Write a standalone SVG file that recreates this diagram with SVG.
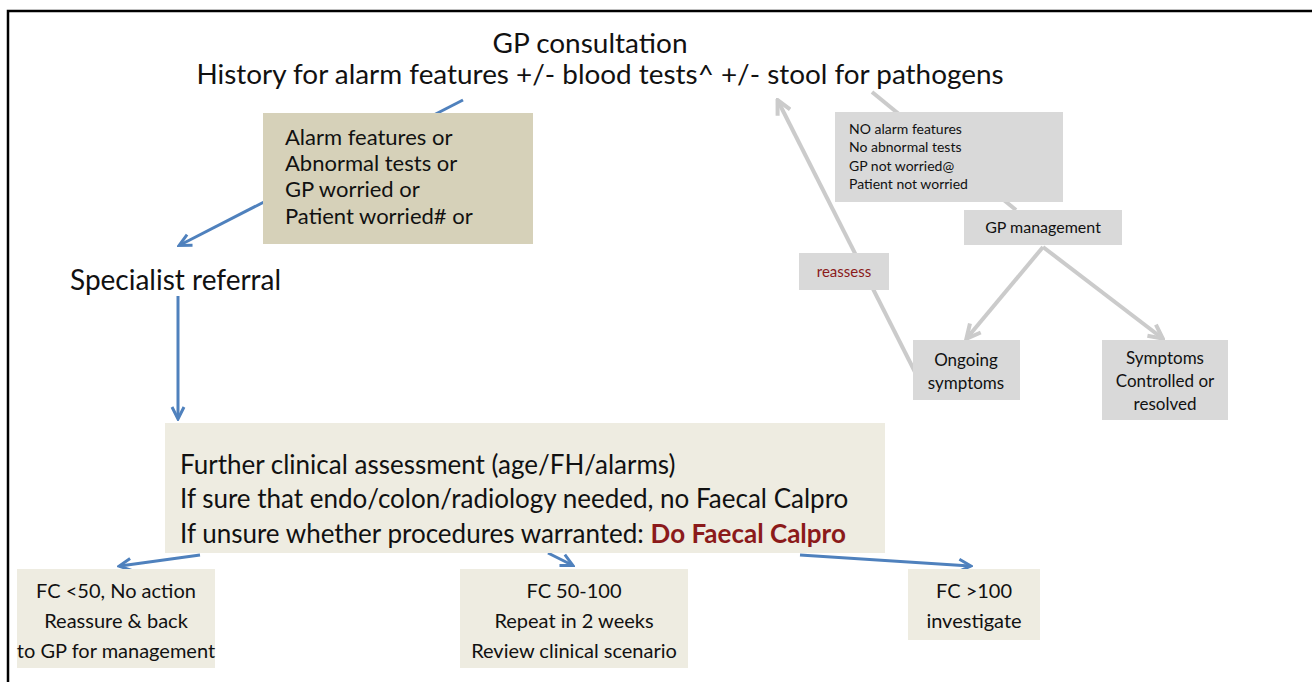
<svg xmlns="http://www.w3.org/2000/svg" width="1312" height="682" viewBox="0 0 1312 682">
<defs>
<marker id="ab" markerUnits="userSpaceOnUse" markerWidth="16" markerHeight="16" viewBox="0 0 16 16" refX="13" refY="8" orient="auto"><path d="M2,2 L14,8 L2,14" fill="none" stroke="#4f81bd" stroke-width="3" stroke-linejoin="miter"/></marker>
<marker id="ag" markerUnits="userSpaceOnUse" markerWidth="18" markerHeight="18" viewBox="0 0 18 18" refX="15" refY="9" orient="auto"><path d="M2,2 L16,9 L2,16" fill="none" stroke="#cbcbcb" stroke-width="4"/></marker>
</defs>
<style>
text{font-family:Lato,"Liberation Sans",sans-serif;fill:#111}
.blue{stroke:#4f81bd;stroke-width:3;fill:none}
.grey{stroke:#cbcbcb;stroke-width:4;fill:none}
.tan{fill:#d6d1b9}
.cream{fill:#eeece1}
.gbox{fill:#d9d9d9}
.big{font-size:26px}
.mid{font-size:20px}
.alarm{font-size:22px}
.sm{font-size:14px}
.gs{font-size:17px}
.c{text-anchor:middle}
</style>
<rect width="1312" height="682" fill="#fff"/>
<path d="M8,682 V11 H1312" fill="none" stroke="#000" stroke-width="2.5"/>

<g id="connectors">
<line class="blue" x1="463" y1="100" x2="180" y2="245" marker-end="url(#ab)"/>
<line class="blue" x1="178" y1="296" x2="178" y2="418" marker-end="url(#ab)"/>
<line class="blue" x1="200" y1="555" x2="120" y2="566" marker-end="url(#ab)"/>
<line class="blue" x1="548" y1="553" x2="572" y2="565" marker-end="url(#ab)"/>
<line class="blue" x1="800" y1="555" x2="970" y2="566" marker-end="url(#ab)"/>
<line class="grey" x1="872" y1="92" x2="1016" y2="210"/>
<line class="grey" x1="1043" y1="247" x2="967" y2="338" marker-end="url(#ag)"/>
<line class="grey" x1="1043" y1="247" x2="1162" y2="338" marker-end="url(#ag)"/>
<line class="grey" x1="915" y1="372" x2="778" y2="101" marker-end="url(#ag)"/>
</g>

<g id="gp-consultation">
<text class="c" x="590" y="53" font-size="27" textLength="195" lengthAdjust="spacingAndGlyphs">GP consultation</text>
<text class="c" x="600" y="84" font-size="27" textLength="807" lengthAdjust="spacingAndGlyphs">History for alarm features +/- blood tests^ +/- stool for pathogens</text>
</g>

<g id="alarm-box">
<rect class="tan" x="263" y="113" width="270" height="131"/>
<text class="alarm" x="285" y="145">Alarm features or</text>
<text class="alarm" x="285" y="171">Abnormal tests or</text>
<text class="alarm" x="285" y="197">GP worried or</text>
<text class="alarm" x="285" y="224">Patient worried# or</text>
</g>

<g id="specialist-referral">
<text x="70" y="290" font-size="28">Specialist referral</text>
</g>

<g id="no-alarm-box">
<rect class="gbox" x="835" y="112" width="228" height="90"/>
<text class="sm" x="849" y="134">NO alarm features</text>
<text class="sm" x="849" y="152">No abnormal tests</text>
<text class="sm" x="849" y="171">GP not worried@</text>
<text class="sm" x="849" y="189">Patient  not worried</text>
</g>

<g id="gp-management">
<rect class="gbox" x="964" y="210" width="158" height="35"/>
<text class="c" x="1043" y="233" font-size="16">GP management</text>
</g>

<g id="reassess">
<rect class="gbox" x="799" y="253" width="90" height="37"/>
<text class="c" x="844" y="277" font-size="15" style="fill:#8b1a1a">reassess</text>
</g>

<g id="ongoing">
<rect class="gbox" x="913" y="340" width="107" height="60"/>
<text class="gs c" x="966" y="366">Ongoing</text>
<text class="gs c" x="966" y="389">symptoms</text>
</g>

<g id="controlled">
<rect class="gbox" x="1102" y="340" width="126" height="80"/>
<text class="gs c" x="1165" y="364">Symptoms</text>
<text class="gs c" x="1165" y="387">Controlled or</text>
<text class="gs c" x="1165" y="410">resolved</text>
</g>

<g id="assessment">
<rect class="cream" x="165" y="423" width="720" height="130"/>
<text class="big" x="180" y="474">Further clinical assessment (age/FH/alarms)</text>
<text class="big" x="180" y="508">If sure that endo/colon/radiology needed, no Faecal Calpro</text>
<text class="big" x="180" y="543">If unsure whether procedures warranted: <tspan font-weight="bold" style="fill:#8b1a1a">Do Faecal Calpro</tspan></text>
</g>

<g id="fc-low">
<rect class="cream" x="17" y="569" width="198" height="99"/>
<text class="mid c" x="116" y="598">FC &lt;50, No action</text>
<text class="mid c" x="116" y="628">Reassure &amp; back</text>
<text class="mid c" x="116" y="658">to GP for management</text>
</g>

<g id="fc-mid">
<rect class="cream" x="460" y="569" width="228" height="99"/>
<text class="mid c" x="574" y="598">FC 50-100</text>
<text class="mid c" x="574" y="628">Repeat in 2 weeks</text>
<text class="mid c" x="574" y="658">Review clinical scenario</text>
</g>

<g id="fc-high">
<rect class="cream" x="908" y="569" width="132" height="71"/>
<text class="mid c" x="974" y="598">FC &gt;100</text>
<text class="mid c" x="974" y="628">investigate</text>
</g>
</svg>
